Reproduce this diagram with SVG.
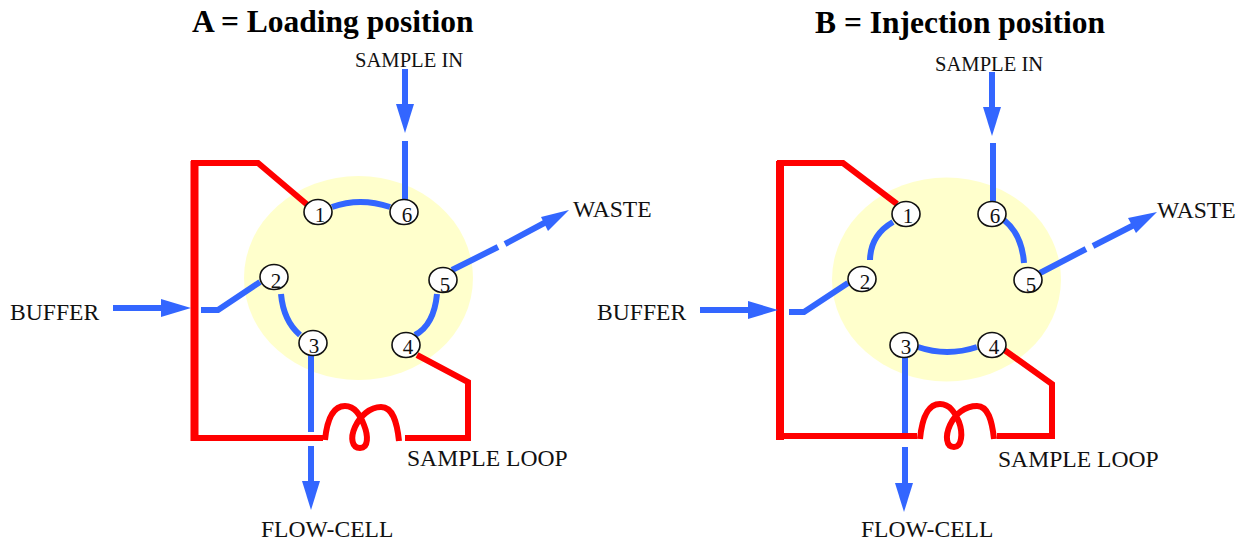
<svg xmlns="http://www.w3.org/2000/svg" width="1245" height="542" viewBox="0 0 1245 542">
<style>
text{font-family:"Liberation Serif","Times New Roman",serif;fill:#111}
.t{font-size:31.5px;font-weight:bold;fill:#000}
.l{font-size:23.6px}
.s{font-size:20.6px}
.n{font-size:21px;text-anchor:middle}
.r{fill:none;stroke:#f00;stroke-width:6;stroke-linejoin:miter}
.w{fill:none;stroke:#f00;stroke-width:8}
.b{fill:none;stroke:#36f;stroke-width:6}
.h{fill:#36f}
.v{fill:#ffc}
.p{fill:#fff;stroke:#111;stroke-width:1.6}
</style>
<rect width="1245" height="542" fill="#fff"/>
<g id="titles">
<text class="t" x="192" y="32">A = Loading position</text>
<text class="t" x="815" y="33">B = Injection position</text>
</g>
<g id="valve-a"><ellipse class="v" cx="358.5" cy="278" rx="114.5" ry="102"/></g>
<g id="valve-b"><ellipse class="v" cx="946.5" cy="279.5" rx="114.5" ry="102"/></g>
<g id="connectors">
<path class="w" d="M194.500 161V441"/>
<path class="r" d="M307 204.500L258 163H191"/>
<path class="r" d="M191 438H323"/>
<path class="r" d="M325 440C327 420 333 406 345 406C355 406 360 415 364 425C368 435 369 448 360 448C352 448 350 438 355 427C360 416 370 407 381 407C393 407 397 422 399 441"/>
<path class="r" d="M405 438H468V382L417 355"/>
<path class="b" d="M405 141V200"/>
<path class="b" d="M405 69V106"/><path class="h" d="M396 104H414L405 133Z"/>
<path class="b" d="M332 207Q360 197 390 207"/>
<path class="b" d="M281 294Q283.500 321 300 335"/>
<path class="b" d="M437 294Q434 325 415 335"/>
<path class="b" d="M311 355V432"/>
<path class="b" d="M311 446V483"/><path class="h" d="M302 481H320L311 510Z"/>
<path class="b" d="M113 308H163"/><path class="h" d="M161 299L191 308L161 317Z"/>
<path class="b" d="M201 310H218L260 282"/>
<path class="b" d="M452 270L498 247M505 244L548 221"/><path class="h" d="M541 217L569 210L548 231Z"/>
<path class="w" d="M780 161V440"/>
<path class="r" d="M897 204L843 163H777"/>
<path class="r" d="M777 436H917"/>
<path class="r" d="M920 439C922 418 928 404 940 404C950 404 955 413 959 422C963 433 962 447 954 447C946 447 945 436 950 425C955 414 965 406 977 406C988 406 992 420 994 439"/>
<path class="r" d="M997 436H1052V384L1003 349"/>
<path class="b" d="M993 143V202"/>
<path class="b" d="M992 72V109"/><path class="h" d="M983 107H1001L992 136Z"/>
<path class="b" d="M893 222Q870.500 235 870 260"/>
<path class="b" d="M1004 220Q1022 234.500 1024 263"/>
<path class="b" d="M918 347Q947 357 977 347"/>
<path class="b" d="M905 357V433"/>
<path class="b" d="M905 447V485"/><path class="h" d="M895 483H913L904 512Z"/>
<path class="b" d="M700 310H750"/><path class="h" d="M748 301L778 310L748 319Z"/>
<path class="b" d="M789 312H804L848 283"/>
<path class="b" d="M1040 273L1086 249M1093 246L1136 224"/><path class="h" d="M1128 218L1157 212L1136 233Z"/>
</g>
<g id="a1"><ellipse class="p" cx="318" cy="212" rx="14" ry="12.5"/><text class="n" x="320" y="222">1</text></g>
<g id="a2"><ellipse class="p" cx="274" cy="277" rx="14" ry="12.5"/><text class="n" x="276" y="288">2</text></g>
<g id="a3"><ellipse class="p" cx="313" cy="343" rx="14" ry="12.5"/><text class="n" x="314" y="353">3</text></g>
<g id="a4"><ellipse class="p" cx="406" cy="345" rx="14" ry="12.5"/><text class="n" x="408" y="354">4</text></g>
<g id="a5"><ellipse class="p" cx="443" cy="280" rx="14" ry="12.5"/><text class="n" x="445" y="292">5</text></g>
<g id="a6"><ellipse class="p" cx="404" cy="212" rx="14" ry="12.5"/><text class="n" x="407" y="222">6</text></g>
<g id="b1"><ellipse class="p" cx="906" cy="214" rx="14" ry="12.5"/><text class="n" x="908" y="223">1</text></g>
<g id="b2"><ellipse class="p" cx="862" cy="279" rx="14" ry="12.5"/><text class="n" x="865" y="289">2</text></g>
<g id="b3"><ellipse class="p" cx="904" cy="345" rx="14" ry="12.5"/><text class="n" x="906" y="354">3</text></g>
<g id="b4"><ellipse class="p" cx="992" cy="345" rx="14" ry="12.5"/><text class="n" x="994" y="354">4</text></g>
<g id="b5"><ellipse class="p" cx="1028" cy="280" rx="14" ry="12.5"/><text class="n" x="1031" y="292">5</text></g>
<g id="b6"><ellipse class="p" cx="992" cy="214" rx="14" ry="12.5"/><text class="n" x="995" y="223">6</text></g>
<g id="labels">
<text class="s" x="355" y="67">SAMPLE IN</text>
<text class="l" x="573" y="217">WASTE</text>
<text class="l" x="10" y="320">BUFFER</text>
<text class="l" x="407" y="466">SAMPLE LOOP</text>
<text class="l" x="261" y="537">FLOW-CELL</text>
<text class="s" x="935" y="71">SAMPLE IN</text>
<text class="l" x="1157" y="218">WASTE</text>
<text class="l" x="597" y="320">BUFFER</text>
<text class="l" x="998" y="467">SAMPLE LOOP</text>
<text class="l" x="861" y="537">FLOW-CELL</text>
</g>
</svg>
